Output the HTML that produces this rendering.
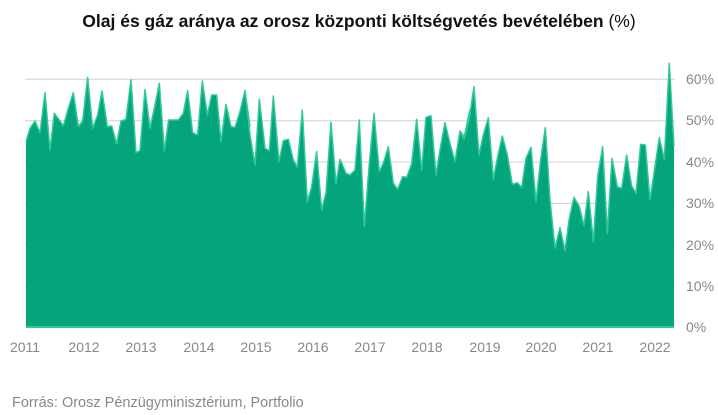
<!DOCTYPE html>
<html><head><meta charset="utf-8"><style>
body{margin:0;background:#fff;width:718px;height:415px;overflow:hidden;font-family:"Liberation Sans",sans-serif}
</style></head><body>
<svg width="718" height="415" xmlns="http://www.w3.org/2000/svg" style="position:absolute;left:0;top:0">
<text x="359" y="27" text-anchor="middle" font-size="17.5" font-weight="bold" fill="#111" font-family="Liberation Sans, sans-serif">Olaj és gáz aránya az orosz központi költségvetés bevételében <tspan font-weight="normal">(%)</tspan></text>
<g stroke="#d0d0d0" stroke-width="1">
<line x1="25" x2="675" y1="79.3" y2="79.3"/><line x1="25" x2="675" y1="120.7" y2="120.7"/><line x1="25" x2="675" y1="162" y2="162"/><line x1="25" x2="675" y1="203.4" y2="203.4"/><line x1="25" x2="675" y1="244.8" y2="244.8"/><line x1="25" x2="675" y1="286" y2="286"/>
</g>
<g fill="#04a57d">
<polygon transform="translate(20,60) scale(0.3333)" points="18,800 18,245 30,205 45,183 60,218 75,98 90,270 103,160 120,183 130,198 145,145 160,98 175,200 188,183 203,52 218,205 233,165 246,93 262,200 275,198 290,252 303,183 318,178 333,60 348,278 360,272 375,88 390,205 403,145 418,70 433,272 446,180 475,180 490,160 503,92 518,218 533,225 547,63 562,165 575,105 590,105 603,245 618,133 633,200 645,202 660,155 675,92 690,200 700,800"/>
<polygon transform="translate(240,60) scale(0.3333)" points="0,800 0,160 15,90 30,225 45,315 58,118 75,265 88,272 100,108 117,305 130,242 145,238 160,300 172,322 187,150 202,425 215,380 230,275 245,450 258,398 273,187 288,372 300,298 318,340 330,345 345,330 358,180 373,500 388,310 402,160 418,335 430,310 445,260 460,370 473,388 488,350 500,352 515,312 530,178 545,330 558,172 573,167 588,345 600,270 615,188 630,250 645,305 660,213 673,230 690,148 700,800"/>
<polygon transform="translate(460,60) scale(0.3333)" points="0,800 0,215 12,238 27,180 42,80 57,285 70,225 85,173 100,358 113,290 127,228 142,285 157,373 172,368 185,383 198,295 213,262 228,425 242,300 256,203 270,420 285,565 300,503 315,573 328,475 342,412 358,440 372,497 385,395 400,545 413,350 428,260 442,520 456,295 472,380 485,385 500,285 515,378 528,400 542,253 556,255 570,420 585,320 598,233 613,298 628,10 642,260 642,800"/>
</g>
<g fill="none" stroke="#2fc99a" stroke-width="1.5" stroke-linejoin="round">
<polyline vector-effect="non-scaling-stroke" transform="translate(20,60) scale(0.3333)" points="18,245 30,205 45,183 60,218 75,98 90,270 103,160 120,183 130,198 145,145 160,98 175,200 188,183 203,52 218,205 233,165 246,93 262,200 275,198 290,252 303,183 318,178 333,60 348,278 360,272 375,88 390,205 403,145 418,70 433,272 446,180 475,180 490,160 503,92 518,218 533,225 547,63 562,165 575,105 590,105 603,245 618,133 633,200 645,202 660,155 675,92 690,200"/>
<polyline vector-effect="non-scaling-stroke" transform="translate(240,60) scale(0.3333)" points="15,90 30,225 45,315 58,118 75,265 88,272 100,108 117,305 130,242 145,238 160,300 172,322 187,150 202,425 215,380 230,275 245,450 258,398 273,187 288,372 300,298 318,340 330,345 345,330 358,180 373,500 388,310 402,160 418,335 430,310 445,260 460,370 473,388 488,350 500,352 515,312 530,178 545,330 558,172 573,167 588,345 600,270 615,188 630,250 645,305 660,213 673,230 690,148"/>
<polyline vector-effect="non-scaling-stroke" transform="translate(460,60) scale(0.3333)" points="0,215 12,238 27,180 42,80 57,285 70,225 85,173 100,358 113,290 127,228 142,285 157,373 172,368 185,383 198,295 213,262 228,425 242,300 256,203 270,420 285,565 300,503 315,573 328,475 342,412 358,440 372,497 385,395 400,545 413,350 428,260 442,520 456,295 472,380 485,385 500,285 515,378 528,400 542,253 556,255 570,420 585,320 598,233 613,298 628,10 642,260"/>
</g>
<line x1="26" x2="674" y1="327" y2="327" stroke="#2fc99a" stroke-width="2"/>
<g font-size="14" fill="#888" font-family="Liberation Sans, sans-serif">
<text x="686" y="84">60%</text><text x="686" y="125">50%</text><text x="686" y="167">40%</text><text x="686" y="208">30%</text><text x="686" y="250">20%</text><text x="686" y="291">10%</text><text x="686" y="332">0%</text>
</g>
<g font-size="14" fill="#888" text-anchor="middle" font-family="Liberation Sans, sans-serif">
<text x="25" y="352">2011</text><text x="84" y="352">2012</text><text x="141" y="352">2013</text><text x="199" y="352">2014</text><text x="256" y="352">2015</text><text x="313" y="352">2016</text><text x="370" y="352">2017</text><text x="427" y="352">2018</text><text x="485" y="352">2019</text><text x="541" y="352">2020</text><text x="598" y="352">2021</text><text x="655" y="352">2022</text>
</g>
<text x="12" y="407" font-size="14.5" fill="#888" font-family="Liberation Sans, sans-serif">Forrás: Orosz Pénzügyminisztérium, Portfolio</text>
</svg>
</body></html>
